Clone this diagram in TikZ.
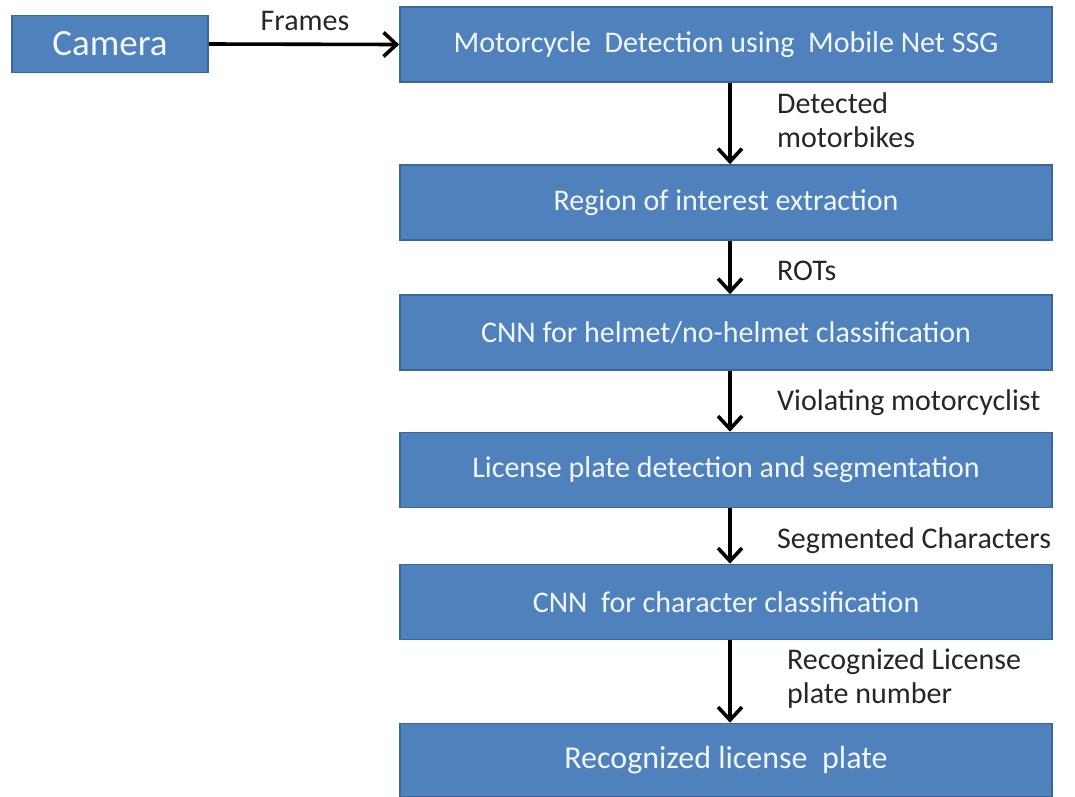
\documentclass[tikz,border=0pt]{standalone}
\usepackage{fontspec}
\setmainfont{Carlito}
\usetikzlibrary{arrows.meta}
\definecolor{boxfill}{HTML}{4F81BD}
\definecolor{boxline}{HTML}{3A679C}
\definecolor{boxtext}{HTML}{F2F6FC}
\begin{document}
\begin{tikzpicture}[x=1pt,y=-1pt,
  stage/.style={draw=boxline, line width=1.6pt, fill=boxfill, text=boxtext,
    minimum width=652pt, minimum height=75pt, inner sep=0pt, font=\fontsize{30}{33}\selectfont},
  flow/.style={line width=3.6pt, -{Straight Barb[length=13pt,width=24pt,line width=3.6pt]}},
  lbl/.style={anchor=west, align=left, inner sep=0pt, font=\fontsize{30}{34}\selectfont, text=black!85}]
\useasboundingbox (0,0) rectangle (1075,796);
\node[stage, minimum width=196pt, minimum height=57pt, font=\fontsize{37}{40}\selectfont] (cam) at (110,44) {Camera};
\node[stage] (b1) at (726,44.5) {Motorcycle\ \ Detection using\ \ Mobile Net SSG};
\node[stage] (b2) at (726,202.5) {Region of interest extraction};
\node[stage] (b3) at (726,332.5) {CNN for helmet/no-helmet classification};
\node[stage] (b4) at (726,470) {License plate detection and segmentation};
\node[stage] (b5) at (726,602) {CNN\ \ for character classification};
\node[stage, font=\fontsize{32}{35}\selectfont, minimum height=73pt] (b6) at (726,760) {Recognized license\ \ plate};
\draw[flow] (cam.east) -- (b1.west);
\node[inner sep=0pt, font=\fontsize{30}{33}\selectfont, text=black!85] (lf) at (305,21) {Frames};
\draw[flow] ([xshift=4pt]b1.south) -- ([xshift=4pt]b2.north);
\draw[flow] ([xshift=4pt]b2.south) -- ([xshift=4pt]b3.north);
\draw[flow] ([xshift=4pt]b3.south) -- ([xshift=4pt]b4.north);
\draw[flow] ([xshift=4pt]b4.south) -- ([xshift=4pt]b5.north);
\draw[flow] ([xshift=4pt]b5.south) -- ([xshift=4pt]b6.north);
\node[lbl] (l1) at (777,120) {Detected\\motorbikes};
\node[lbl] (l2) at (777,271) {ROTs};
\node[lbl] (l3) at (777,403) {Violating motorcyclist};
\node[lbl] (l4) at (777,541) {Segmented Characters};
\node[lbl] (l5) at (787,678) {Recognized License\\plate number};
\end{tikzpicture}
\end{document}
